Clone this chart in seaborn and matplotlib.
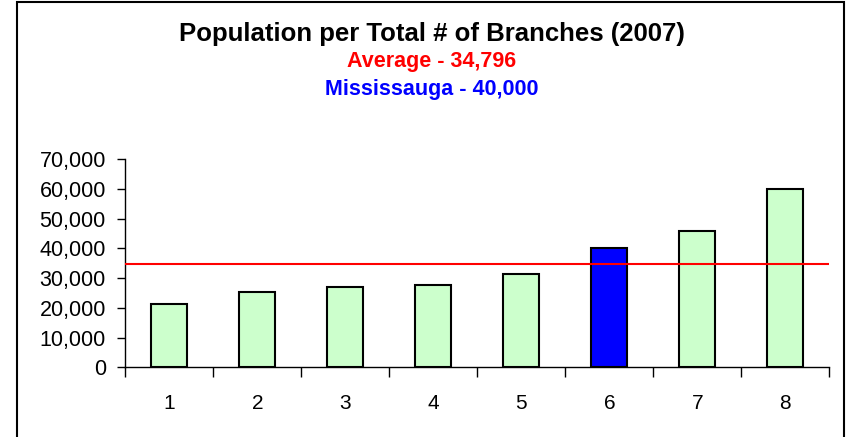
import matplotlib
matplotlib.use('Agg')
import matplotlib.pyplot as plt
import matplotlib.patches as patches
from matplotlib.ticker import FuncFormatter, FixedLocator
import seaborn as sns
import pandas as pd

# values
branches = ['1', '2', '3', '4', '5', '6', '7', '8']
population = [21300, 25300, 27000, 27700, 31500, 40000, 46000, 59900]
bar_colors = ['#CCFFCC', '#CCFFCC', '#CCFFCC', '#CCFFCC', '#CCFFCC', '#0000FF', '#CCFFCC', '#CCFFCC']
average = 34796

sns.set_style('white')
plt.rcParams['font.family'] = ['Liberation Sans', 'DejaVu Sans']

df = pd.DataFrame({'branch': branches, 'population': population})

fig = plt.figure(figsize=(8.46, 4.37), dpi=100)
ax = fig.add_axes([0.1481, 0.1595, 0.8322, 0.476])

sns.barplot(data=df, x='branch', y='population', hue='branch', palette=bar_colors,
            saturation=1, legend=False, width=0.41, edgecolor='black', linewidth=1.5, ax=ax)

ax.axhline(average, color='red', lw=1.5, zorder=5)

ax.set_ylim(0, 70000)
ax.set_xlim(-0.5, len(branches) - 0.5)
ax.set_yticks(range(0, 70001, 10000))
ax.yaxis.set_major_formatter(FuncFormatter(lambda v, p: f'{int(v):,}'))
ax.set_xlabel('')
ax.set_ylabel('')

# x ticks sit between categories, labels centered under bars
ax.xaxis.set_minor_locator(FixedLocator([i - 0.5 for i in range(len(branches) + 1)]))
ax.tick_params(axis='x', which='major', length=0, pad=19, labelsize=15, colors='black')
ax.tick_params(axis='x', which='minor', length=7, width=1, direction='out', bottom=True, color='black')
ax.tick_params(axis='y', which='major', length=6, width=1, direction='out', left=True, pad=8,
               labelsize=15.5, colors='black')

for s in ['top', 'right']:
    ax.spines[s].set_visible(False)
for s in ['left', 'bottom']:
    ax.spines[s].set_color('black')
    ax.spines[s].set_linewidth(1)

# outer frame of the chart
frame = patches.Rectangle((17 / 846, -0.1), 827 / 846, 1.0 - 2 / 437 + 0.1,
                          transform=fig.transFigure, fill=False, edgecolor='black', lw=1.5)
fig.patches.append(frame)

cx = 432 / 846
fig.text(cx, 1 - 34 / 437, 'Population per Total # of Branches (2007)', ha='center', va='center',
         fontsize=18.5, fontweight='bold', color='black')
fig.text(cx, 1 - 62 / 437, 'Average - 34,796', ha='center', va='center',
         fontsize=15.5, fontweight='bold', color='#FF0000')
fig.text(cx, 1 - 90 / 437, 'Mississauga - 40,000', ha='center', va='center',
         fontsize=15.5, fontweight='bold', color='#0000FF')

fig.savefig('out.png', dpi=100)
